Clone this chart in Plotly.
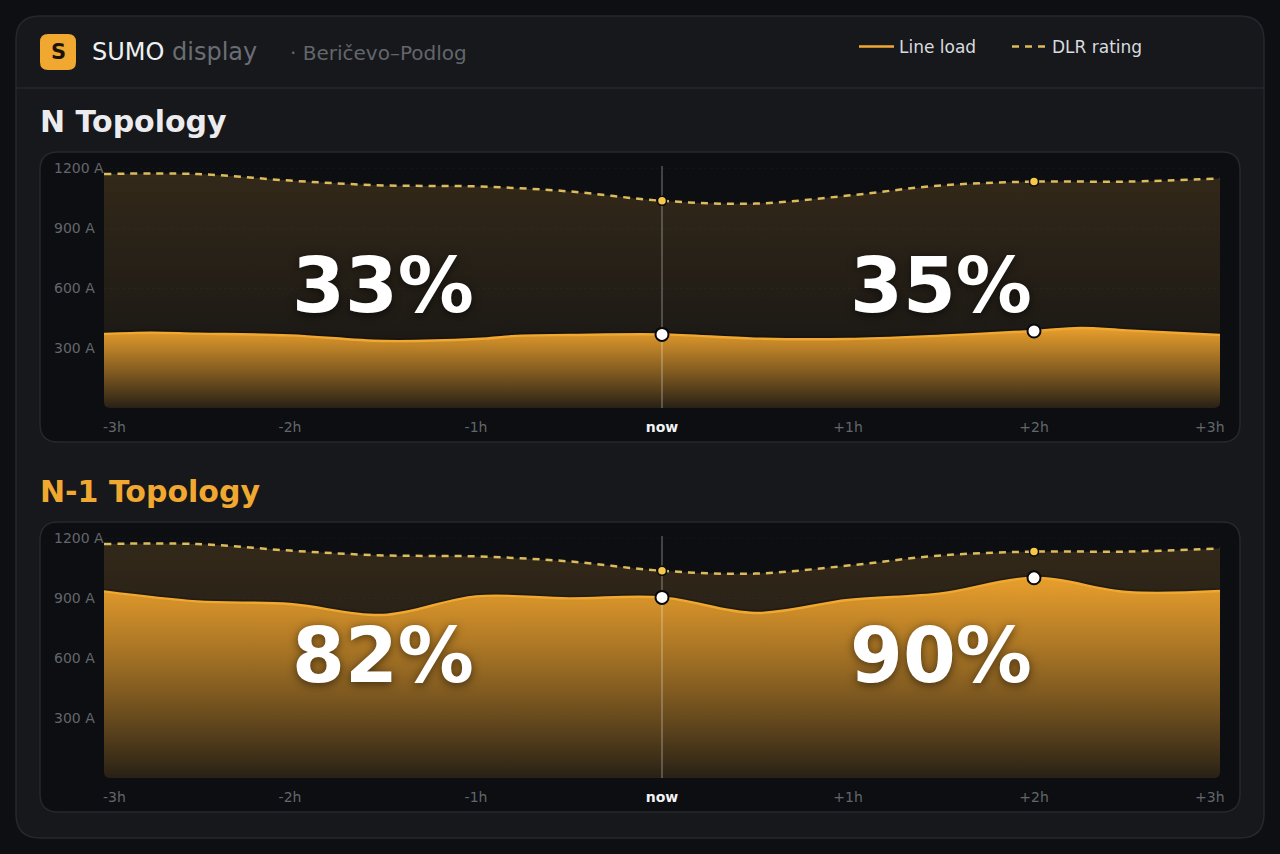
import plotly.graph_objects as go

W, H = 1280, 854

hours = [-3 + i * 0.5 for i in range(13)]
dlr_rating = [1170, 1170, 1137, 1113, 1108, 1083, 1036, 1022, 1062, 1113, 1132, 1132, 1148]
hours_n = [-3, -2.75, -2.5, -2, -1.5, -1, -0.75, -0.5, 0, 0.5, 1, 1.5, 2, 2.25, 2.5, 3]
load_n = [370, 377, 372, 363, 335, 345, 362, 365, 368, 347, 345, 362, 385, 400, 388, 365]
load_n1 = [933, 883, 870, 815, 908, 898, 903, 825, 890, 923, 1001, 930, 935]
percent_n = ["33%", "35%"]
percent_n1 = ["82%", "90%"]
y_ticks = [300, 600, 900, 1200]
y_tick_labels = ["300 A", "600 A", "900 A", "1200 A"]
x_ticks = [-2, -1, 0, 1, 2]
x_tick_labels = ["-2h", "-1h", '<b><span style="color:#f2f3f5">now</span></b>', "+1h", "+2h"]
x_end_ticks = [-3, 3]
x_end_labels = ["-3h", "+3h"]
marker_hours = [0, 2]

FONT = "DejaVu Sans"
ORANGE = "#f0a830"
YELLOW = "#f5c84c"
MUTED = "#63666b"
PAGE = "#0d0f12"
CARD = "#16181c"
PANEL = "#0c0e12"
BORDER = "#25282d"


def px(x):
    return x / W


def py(y):
    return 1 - y / H


def round_rect(x0, y0, x1, y1, r):
    k = [
        (x0 + r, y0), (x1 - r, y0), (x1, y0), (x1, y0 + r), (x1, y1 - r), (x1, y1),
        (x1 - r, y1), (x0 + r, y1), (x0, y1), (x0, y1 - r), (x0, y0 + r), (x0, y0), (x0 + r, y0),
    ]
    f = lambda p: f"{px(p[0]):.5f},{py(p[1]):.5f}"
    return (f"M{f(k[0])} L{f(k[1])} Q{f(k[2])} {f(k[3])} L{f(k[4])} Q{f(k[5])} {f(k[6])} "
            f"L{f(k[7])} Q{f(k[8])} {f(k[9])} L{f(k[10])} Q{f(k[11])} {f(k[12])} Z")


def corner_mask(cx, cy, dx, r):
    f = lambda a, b: f"{px(a):.5f},{py(b):.5f}"
    return f"M{f(cx, cy)} L{f(cx + dx * r, cy)} Q{f(cx, cy)} {f(cx, cy - r)} Z"


shapes = [
    dict(type="path", xref="paper", yref="paper", path=round_rect(16, 16, 1264, 838, 24),
         fillcolor=CARD, line=dict(color=BORDER, width=1.5), layer="below"),
    dict(type="line", xref="paper", yref="paper", x0=px(16), x1=px(1264), y0=py(88), y1=py(88),
         line=dict(color="#24272c", width=1.5), layer="below"),
    dict(type="path", xref="paper", yref="paper", path=round_rect(40, 34, 76, 70, 8),
         fillcolor=ORANGE, line=dict(width=0), layer="below"),
    dict(type="path", xref="paper", yref="paper", path=round_rect(40, 152, 1240, 442, 18),
         fillcolor=PANEL, line=dict(color=BORDER, width=1.5), layer="below"),
    dict(type="path", xref="paper", yref="paper", path=round_rect(40, 522, 1240, 812, 18),
         fillcolor=PANEL, line=dict(color=BORDER, width=1.5), layer="below"),
]
for bottom in (408, 778):
    for cx, dx in ((104, 1), (1220, -1)):
        shapes.append(dict(type="path", xref="paper", yref="paper", path=corner_mask(cx, bottom, dx, 6),
                           fillcolor=PANEL, line=dict(width=0), layer="above"))

annotations = [
    dict(text="S", x=px(58), y=py(52), font=dict(size=21, color="#1a1408", family=FONT, weight="bold")),
    dict(text='SUMO <span style="color:#6a6e74">display</span>', x=px(91), y=py(52), xanchor="left",
         font=dict(size=24, color="#eef0f2", family=FONT)),
    dict(text="· Beričevo–Podlog", x=px(289), y=py(53), xanchor="left",
         font=dict(size=20, color=MUTED, family=FONT)),
    dict(text="N Topology", x=px(39), y=py(122), xanchor="left",
         font=dict(size=30, color="#ececee", family=FONT, weight="bold")),
    dict(text="N-1 Topology", x=px(39), y=py(491.5), xanchor="left",
         font=dict(size=30, color=ORANGE, family=FONT, weight="bold")),
]
for a in annotations:
    a.update(xref="paper", yref="paper", showarrow=False, yanchor="middle", borderpad=0)
    a.setdefault("xanchor", "center")

fig = go.Figure()


def add_panel(load_hours, load, percents, xa, ya, legend, tick_y_offset):
    dlr_idx = [hours.index(h) for h in marker_hours]
    load_idx = [load_hours.index(h) for h in marker_hours]
    fig.add_trace(go.Scatter(
        x=hours, y=dlr_rating, mode="none", fill="tozeroy", xaxis=xa, yaxis=ya, showlegend=False,
        line=dict(shape="spline", smoothing=1), hoverinfo="skip",
        fillgradient=dict(type="vertical", start=0, stop=max(dlr_rating),
                          colorscale=[[0, "rgba(240,170,60,0.03)"], [1, "rgba(240,170,60,0.17)"]]),
    ))
    fig.add_trace(go.Scatter(
        x=load_hours, y=load, mode="lines", xaxis=xa, yaxis=ya, showlegend=False, hoverinfo="skip",
        line=dict(shape="spline", smoothing=1, color="rgba(0,0,0,0.22)", width=6),
    ))
    fig.add_trace(go.Scatter(
        x=load_hours, y=load, mode="none", fill="tozeroy", xaxis=xa, yaxis=ya, showlegend=False,
        line=dict(shape="spline", smoothing=1), hoverinfo="skip",
        fillgradient=dict(type="vertical", start=0, stop=max(load),
                          colorscale=[[0, "rgba(232,158,44,0.1)"], [1, "rgba(232,158,44,1)"]]),
    ))
    fig.add_trace(go.Scatter(
        x=load_hours, y=load, mode="lines", name="Line load", xaxis=xa, yaxis=ya, showlegend=legend,
        line=dict(shape="spline", smoothing=1, color=ORANGE, width=2.4),
    ))
    fig.add_trace(go.Scatter(
        x=hours, y=dlr_rating, mode="lines", name="DLR rating", xaxis=xa, yaxis=ya, showlegend=legend,
        line=dict(shape="spline", smoothing=1, color="#dcbb5c", width=2.5, dash="7px,6px"),
    ))
    fig.add_trace(go.Scatter(
        x=[0, 0], y=[0, 1210], mode="lines", xaxis=xa, yaxis=ya, showlegend=False, hoverinfo="skip",
        line=dict(color="rgba(255,255,255,0.3)", width=1.5),
    ))
    fig.add_trace(go.Scatter(
        x=[hours[i] for i in dlr_idx], y=[dlr_rating[i] for i in dlr_idx], mode="markers",
        xaxis=xa, yaxis=ya, showlegend=False, cliponaxis=False,
        marker=dict(size=9, color=YELLOW, line=dict(color="#0b0c0e", width=1.5)),
    ))
    fig.add_trace(go.Scatter(
        x=[load_hours[i] for i in load_idx], y=[load[i] for i in load_idx], mode="markers",
        xaxis=xa, yaxis=ya, showlegend=False, cliponaxis=False,
        marker=dict(size=13, color="#ffffff", line=dict(color="#08090a", width=2)),
    ))
    for xpos, txt in zip((-1.5, 1.5), percents):
        annotations.append(dict(
            text=txt, x=xpos, y=612, xref=xa, yref=ya, showarrow=False,
            font=dict(size=76, color="#ffffff", family=FONT, weight="bold",
                      shadow="0px 2px 10px rgba(0,0,0,0.55)"),
        ))
    for v, txt in zip(y_ticks, y_tick_labels):
        annotations.append(dict(
            text=txt, x=px(52), xref="paper", y=v, yref=ya, xanchor="left", yanchor="middle",
            showarrow=False, font=dict(size=14, color=MUTED, family=FONT),
        ))
    for v, txt, shift in zip(x_end_ticks, x_end_labels, (10, -10)):
        annotations.append(dict(
            text=txt, x=v, xref=xa, y=py(tick_y_offset), yref="paper", yanchor="middle",
            xshift=shift, showarrow=False, font=dict(size=14, color=MUTED, family=FONT),
        ))


add_panel(hours_n, load_n, percent_n, "x", "y", True, 427)
add_panel(hours, load_n1, percent_n1, "x2", "y2", False, 797)

x_axis = dict(range=[-3, 3], domain=[px(104), px(1220)], tickvals=x_ticks, ticktext=x_tick_labels,
              showgrid=False, zeroline=False, showline=False, ticks="", ticklabelstandoff=9,
              tickfont=dict(size=14, color=MUTED, family=FONT))
y_axis = dict(range=[0, 1210], tickvals=y_ticks, showticklabels=False, zeroline=False, showline=False,
              ticks="", showgrid=True, gridcolor="rgba(255,255,255,0.025)", griddash="dot", gridwidth=1)

fig.update_layout(
    width=W, height=H, margin=dict(l=0, r=0, t=0, b=0), autosize=False,
    paper_bgcolor=PAGE, plot_bgcolor="rgba(0,0,0,0)", font=dict(family=FONT),
    xaxis=dict(x_axis, anchor="y"),
    yaxis=dict(y_axis, domain=[py(408), py(166)], anchor="x"),
    xaxis2=dict(x_axis, anchor="y2"),
    yaxis2=dict(y_axis, domain=[py(778), py(536)], anchor="x2"),
    shapes=shapes, annotations=annotations, hovermode=False,
    legend=dict(orientation="h", x=px(854), y=py(47), xanchor="left", yanchor="middle",
                bgcolor="rgba(0,0,0,0)", itemwidth=35, entrywidth=103, entrywidthmode="pixels",
                font=dict(size=17, color="#d9dbdf", family=FONT), itemclick=False, itemdoubleclick=False),
)

fig.write_html(
    "out.html",
    config={"displayModeBar": False},
    post_script=f"document.body.style.margin='0';document.body.style.background='{PAGE}';"
                "document.body.style.overflow='hidden';",
)
